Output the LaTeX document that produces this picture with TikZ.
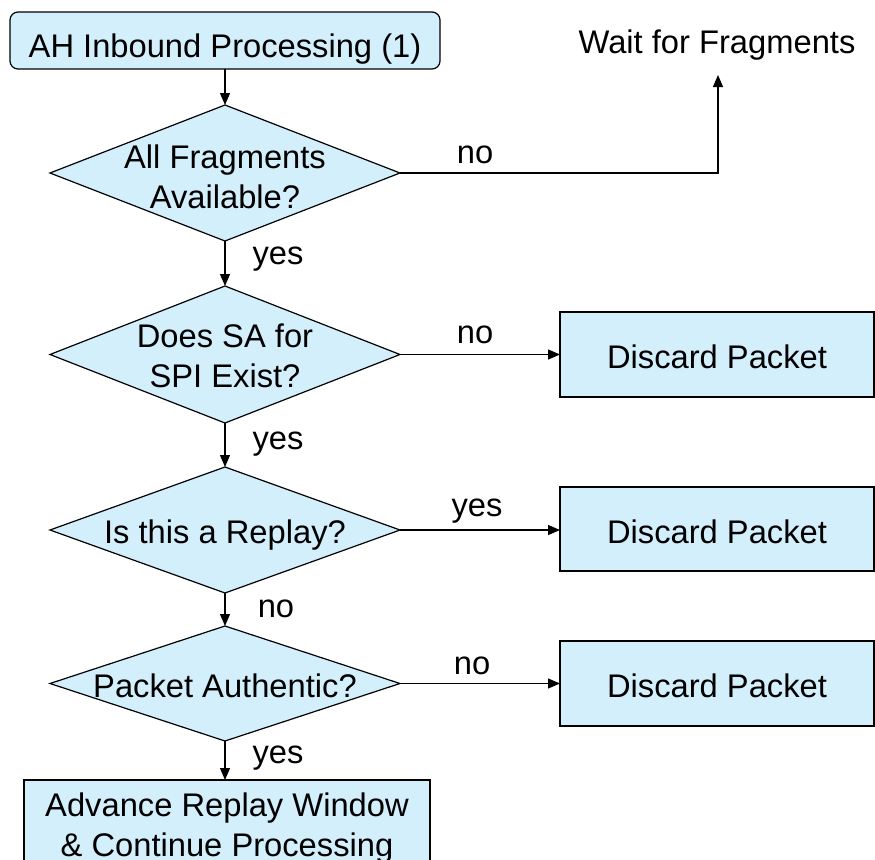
\documentclass[tikz,border=0pt]{standalone}
\usepackage{fontspec}
\setmainfont{Liberation Sans}
\usetikzlibrary{shapes.geometric,arrows.meta}
\definecolor{lb}{RGB}{211,239,252}
\newcommand{\twolines}[2]{\makebox[0pt]{\begin{tabular}[b]{@{}c@{}}#1\\#2\end{tabular}}}
\newcommand{\oneline}[1]{\makebox[0pt]{#1}}
\begin{document}
\begin{tikzpicture}[x=1pt,y=-1pt,
  every node/.style={font=\fontsize{32.7pt}{40pt}\selectfont, inner sep=0pt, outer sep=0pt},
  dia/.style={shape=diamond, draw=black, fill=lb, line width=1.2pt, minimum width=350pt, text depth=0pt},
  box/.style={rectangle, draw=black, fill=lb, line width=1.2pt, text depth=0pt},
  lbl/.style={anchor=base},
  arr/.style={line width=1.2pt, -{Triangle[length=12pt,width=10pt]}}]
\useasboundingbox (0,0) rectangle (875,859);

\node[box, rounded corners=8pt, minimum width=430pt, minimum height=57pt, text height=35pt] (start) at (225,40.5) {AH Inbound Processing (1)};
\node[text height=22pt, text depth=0pt] (wait) at (717,43) {Wait for Fragments};
\coordinate (wend) at (718,75);

\node[dia, minimum height=136pt, text height=70pt] (d1) at (225,173) {\twolines{All Fragments}{Available?}};
\node[dia, minimum height=137pt, text height=66pt] (d2) at (225,354.5) {\twolines{Does SA for}{SPI Exist?}};
\node[dia, minimum height=126pt, text height=26pt] (d3) at (225,530) {\oneline{Is this a Replay?}};
\node[dia, minimum height=115pt, text height=27pt] (d4) at (225,683.5) {\oneline{Packet Authentic?}};

\node[box, minimum width=314pt, minimum height=85pt, text height=27pt] (b1) at (717,354.5) {Discard Packet};
\node[box, minimum width=314pt, minimum height=84pt, text height=28pt] (b2) at (717,529) {Discard Packet};
\node[box, minimum width=314pt, minimum height=85pt, text height=27.5pt] (b3) at (717,683.5) {Discard Packet};

\node[box, minimum width=406pt, minimum height=100pt, text height=52pt] (fin) at (227,830) {\twolines{Advance Replay Window}{\& Continue Processing}};

\draw[arr] (start.south) -- (d1.north);
\draw[arr] (d1.east) -| (wend);
\draw[arr] (d1.south) -- (d2.north);
\draw[arr] (d2.east) -- (d2.east -| b1.west);
\draw[arr] (d2.south) -- (d3.north);
\draw[arr] (d3.east) -- (d3.east -| b2.west);
\draw[arr] (d3.south) -- (d4.north);
\draw[arr] (d4.east) -- (d4.east -| b3.west);
\draw[arr] (d4.south) -- (d4.south |- fin.north);

\node[lbl] (l1) at (475,163) {no};
\node[lbl] (l2) at (278,264) {yes};
\node[lbl] (l3) at (475,343) {no};
\node[lbl] (l4) at (278,449) {yes};
\node[lbl] (l5) at (477,516) {yes};
\node[lbl] (l6) at (276,617) {no};
\node[lbl] (l7) at (472,674) {no};
\node[lbl] (l8) at (278,763) {yes};
\end{tikzpicture}
\end{document}
